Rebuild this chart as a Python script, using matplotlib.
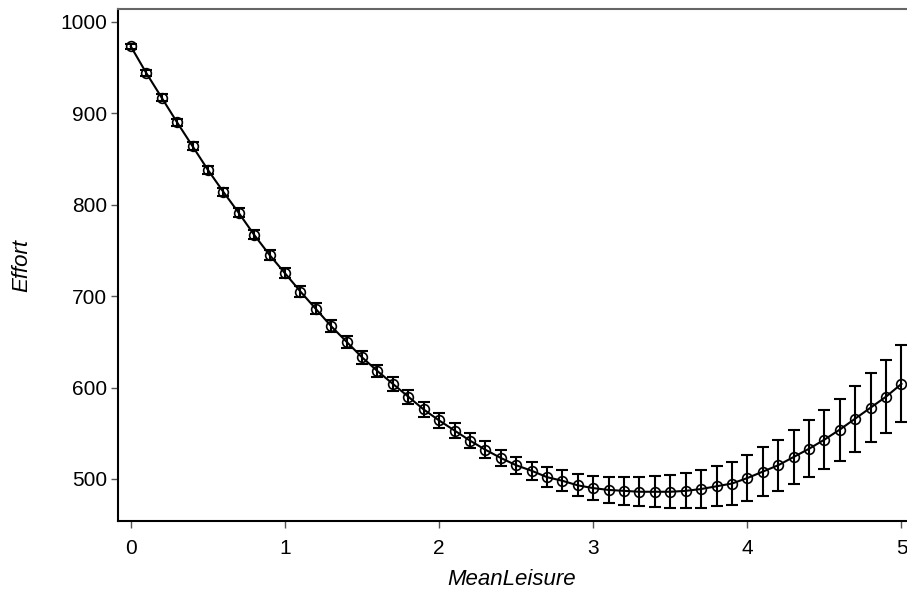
import numpy as np
import matplotlib.pyplot as plt

plt.rcParams['font.family'] = ['Liberation Sans', 'DejaVu Sans']

# MeanLeisure grid and predicted Effort (margins) with CI half-widths
leisure = [round(0.1 * i, 1) for i in range(51)]
effort = [973, 944, 917, 890, 864, 838, 814, 791, 767, 745,
          725, 705, 686, 667, 650, 633, 618, 604, 590, 576,
          564, 553, 542, 532, 523, 515, 509, 502, 498, 493,
          490, 488, 487, 486, 486, 486, 487, 489, 492, 495,
          501, 508, 515, 524, 533, 543, 554, 566, 578, 590,
          604]
ci_half = [3, 3, 3.5, 4, 4, 4.5, 4.5, 5, 5, 5.5,
           5.5, 6, 6, 6.5, 6.5, 7, 7, 7.5, 7.5, 8,
           8, 8.5, 8.5, 9, 9, 9.5, 10, 11, 11.5, 12,
           13, 14, 15, 16, 17, 18, 19, 20.5, 22, 23.5,
           25, 26.5, 28, 29.5, 31, 32.5, 34, 36, 38, 40,
           42]

x_ticks = [0, 1, 2, 3, 4, 5]
y_ticks = [500, 600, 700, 800, 900, 1000]

fig = plt.figure(figsize=(9.07, 5.91), dpi=100)
ax = fig.add_axes([0.130, 0.1184, 0.869, 0.8664])

ax.errorbar(leisure, effort, yerr=ci_half, fmt='none', ecolor='black',
            elinewidth=1.5, capsize=4.3, capthick=1.5, zorder=2)
ax.plot(leisure, effort, color='black', lw=1.5, marker='o', ms=7,
        mfc='none', mec='black', mew=1.2, zorder=3)

ax.set_xlim(-0.084, 5.03)
ax.set_ylim(454, 1014)
ax.set_xticks(x_ticks)
ax.set_yticks(y_ticks)
ax.tick_params(direction='out', length=5, width=1, colors='#555555',
               labelcolor='black', labelsize=15)
ax.tick_params(axis='x', pad=8)
ax.tick_params(axis='y', pad=3)

for s in ['left', 'bottom']:
    ax.spines[s].set_color('black')
    ax.spines[s].set_linewidth(1.5)
ax.spines['top'].set_color('#666666')
ax.spines['top'].set_linewidth(1.5)
ax.spines['right'].set_visible(False)

ax.set_xlabel('MeanLeisure', fontsize=16, fontstyle='italic', labelpad=8)
ax.set_ylabel('Effort', fontsize=16, fontstyle='italic', labelpad=20)

fig.savefig('out.png', dpi=100)
